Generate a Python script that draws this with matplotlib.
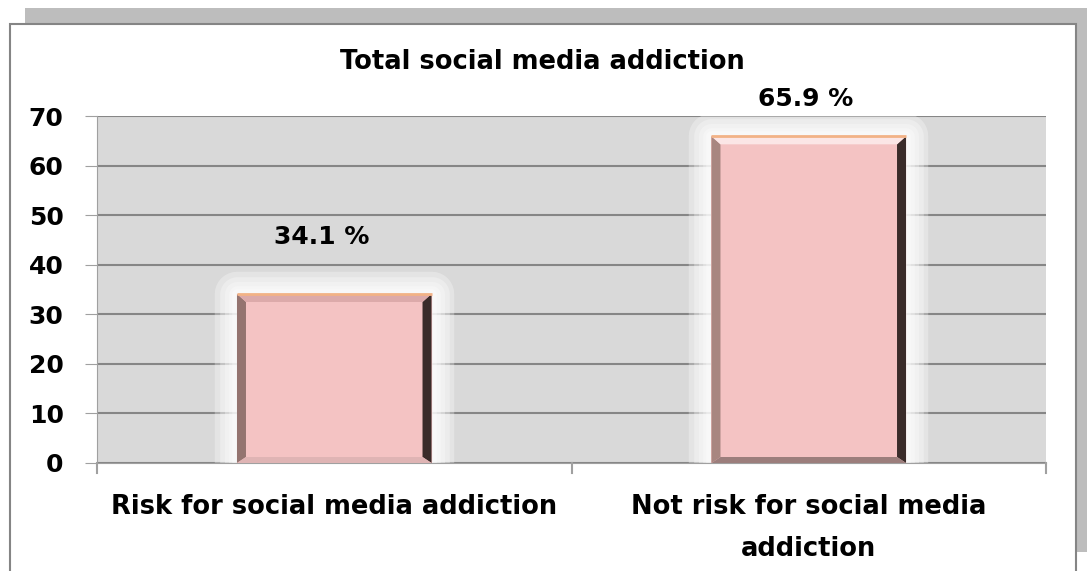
import matplotlib
matplotlib.use("Agg")
import matplotlib.pyplot as plt
import matplotlib.patheffects as pe
from matplotlib.patches import Rectangle, Polygon

plt.rcParams['font.family'] = ['DejaVu Sans']

categories = ["Risk for social media addiction", "Not risk for social media\naddiction"]
values = [34.1, 65.9]
value_labels = ["34.1 %", "65.9 %"]
yticks = [0, 10, 20, 30, 40, 50, 60, 70]
title = "Total social media addiction"

W, H = 1087, 571
fig = plt.figure(figsize=(W / 100, H / 100), dpi=100)
fig.patch.set_facecolor("white")

# shadow strips + white frame with grey border (figure pixel coords)
def fx(px): return px / W
def fy(py): return 1 - py / H

fig.patches.append(Rectangle((fx(25), fy(552)), fx(1087) - fx(25), fy(8) - fy(552),
                             transform=fig.transFigure, facecolor="#bdbdbd", edgecolor="none", zorder=-3))
fig.patches.append(Rectangle((fx(10), fy(600)), fx(1076) - fx(10), fy(24) - fy(600),
                             transform=fig.transFigure, facecolor="white", edgecolor="#858585",
                             linewidth=1.5, zorder=-2))

ax = fig.add_axes([fx(97), fy(463), fx(1046) - fx(97), fy(116) - fy(463)])
ax.set_facecolor("#d9d9d9")
ax.set_xlim(-0.5, 1.5)
ax.set_ylim(0, 70)
ax.set_yticks(yticks)
ax.set_yticklabels([str(t) for t in yticks], fontsize=18, fontweight="bold")
ax.yaxis.grid(True, color="#868686", linewidth=1.5)
ax.set_axisbelow(True)
for s in ["top", "right"]:
    ax.spines[s].set_visible(False)
ax.spines["left"].set_color("#a0a0a0")
ax.spines["bottom"].set_color("#a0a0a0")
ax.tick_params(axis="y", length=9, color="#a0a0a0", pad=15)
ax.set_xticks([0, 1])
ax.set_xticklabels(categories, fontsize=18.5, fontweight="bold", linespacing=1.8)
ax.tick_params(axis="x", length=0, pad=22)
# category boundary ticks
for xb in [-0.5, 0.5, 1.5]:
    ax.plot([xb, xb], [0, -2], color="#a0a0a0", linewidth=1.5, clip_on=False)

# soft white glow around each bar
glow = [pe.Stroke(linewidth=w, foreground="white", alpha=0.3, joinstyle="round")
        for w in (32, 25, 18, 12, 7)] + [pe.Normal()]
bars = ax.bar([0, 1], values, width=0.41, color="#f4c3c3", edgecolor="none", zorder=3)

pxx = 2.0 / (1046 - 97)   # data per px in x
pxy = 70.0 / (463 - 116)  # data per px in y
bevel_left = ["#947470", "#a88680"]
bevel_bottom = ["#dfb4b4", "#9c7e7c"]
bevel_top = ["#dcaaaa", "#fbe6e6"]
for i, b in enumerate(bars):
    b.set_path_effects(glow)
    x0, w, h = b.get_x(), b.get_width(), b.get_height()
    x1 = x0 + w
    bx, by, bt = 9 * pxx, 6 * pxy, 8 * pxy
    ax.add_patch(Polygon([(x0, 0), (x0 + bx, by), (x0 + bx, h - bt), (x0, h)],
                         facecolor=bevel_left[i], edgecolor="none", zorder=4))
    ax.add_patch(Polygon([(x1, 0), (x1 - bx, by), (x1 - bx, h - bt), (x1, h)],
                         facecolor="#3a2c2a", edgecolor="none", zorder=4))
    ax.add_patch(Polygon([(x0, h), (x1, h), (x1 - bx, h - bt), (x0 + bx, h - bt)],
                         facecolor=bevel_top[i], edgecolor="none", zorder=4))
    ax.add_patch(Polygon([(x0, 0), (x1, 0), (x1 - bx, by), (x0 + bx, by)],
                         facecolor=bevel_bottom[i], edgecolor="none", zorder=4))
    ax.plot([x0, x1], [h, h], color="#f2b286", linewidth=2, zorder=5, solid_capstyle="butt")

label_offsets = [(-9, 41), (-2, 27)]  # points
for b, lab, off in zip(bars, value_labels, label_offsets):
    ax.annotate(lab, (b.get_x() + b.get_width() / 2, b.get_height()),
                xytext=off, textcoords="offset points", ha="center", va="center",
                fontsize=18, fontweight="bold")

fig.text(fx(542), fy(62), title, ha="center", va="center", fontsize=18.5, fontweight="bold")

fig.savefig("out.png", dpi=100)
